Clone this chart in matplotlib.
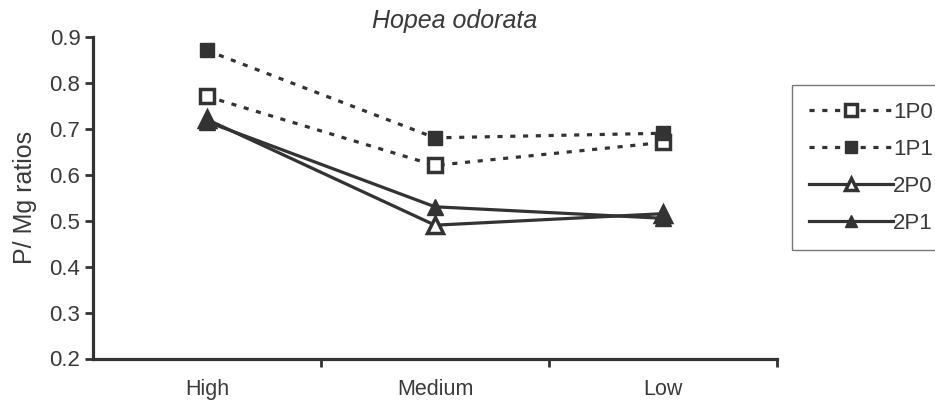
import numpy as np
import matplotlib
matplotlib.use('Agg')
import matplotlib.pyplot as plt

plt.rcParams['font.family'] = ['Liberation Sans', 'DejaVu Sans']

# data
categories = ['High', 'Medium', 'Low']
series_names = ['1P0', '1P1', '2P0', '2P1']
p0_1 = [0.77, 0.62, 0.67]
p1_1 = [0.87, 0.68, 0.69]
p0_2 = [0.72, 0.49, 0.515]
p1_2 = [0.715, 0.53, 0.505]

ink = '#333333'
txt = '#3a3a3a'
fig = plt.figure(figsize=(9.35, 4.05), dpi=100)
ax = fig.add_axes([93 / 935, 1 - 358.5 / 405, (777 - 93) / 935, (358.5 - 36.7) / 405])

x = np.arange(len(categories))
dot = (0, (1.6, 2.4))
ax.plot(x, p0_1, linestyle=dot, lw=2.3, color=ink, marker='s', ms=10,
        mfc='white', mec=ink, mew=2.5, label=series_names[0])
ax.plot(x, p1_1, linestyle=dot, lw=2.3, color=ink, marker='s', ms=10,
        mfc=ink, mec=ink, label=series_names[1])
ax.plot(x, p0_2, linestyle='-', lw=2.3, color=ink, marker='^', ms=11,
        mfc='white', mec=ink, mew=2.5, label=series_names[2])
ax.plot(x, p1_2, linestyle='-', lw=2.3, color=ink, marker='^', ms=11,
        mfc=ink, mec=ink, label=series_names[3])

ax.set_xlim(-0.5, 2.5)
ax.set_ylim(0.2, 0.9)
ax.set_yticks(np.arange(0.2, 0.91, 0.1))
ax.set_yticklabels([f'{v:.1f}' for v in np.arange(0.2, 0.91, 0.1)])
ax.set_xticks([0.5, 1.5, 2.5])
ax.set_xticklabels([])
ax.set_xticks(x, minor=True)
ax.set_xticklabels(categories, minor=True)
ax.tick_params(axis='x', which='minor', length=0, pad=15, labelsize=15.5, labelcolor=txt)
ax.tick_params(axis='x', which='major', length=6, width=2, color=ink, direction='out')
ax.tick_params(axis='y', length=6, width=2, color=ink, direction='out', labelsize=16,
               labelcolor=txt, pad=3)

for side in ['top', 'right']:
    ax.spines[side].set_visible(False)
for side in ['left', 'bottom']:
    ax.spines[side].set_linewidth(2.3)
    ax.spines[side].set_color(ink)

ax.set_ylabel('P/ Mg ratios', fontsize=18, color=txt, labelpad=9)
fig.text(455 / 935, 1 - 21 / 405, 'Hopea odorata', style='italic', fontsize=18,
         color=txt, ha='center', va='center')

leg = fig.legend(loc='upper left', bbox_to_anchor=(792 / 935, 1 - 85 / 405),
                 fontsize=16, handlelength=3.8, handletextpad=0.0, labelspacing=0.72,
                 borderpad=0.75, borderaxespad=0, fancybox=False, numpoints=1,
                 markerscale=0.8)
leg.get_frame().set_edgecolor('#555555')
leg.get_frame().set_linewidth(1.0)
for t in leg.get_texts():
    t.set_color(txt)

fig.savefig('out.png', dpi=100, facecolor='white')
